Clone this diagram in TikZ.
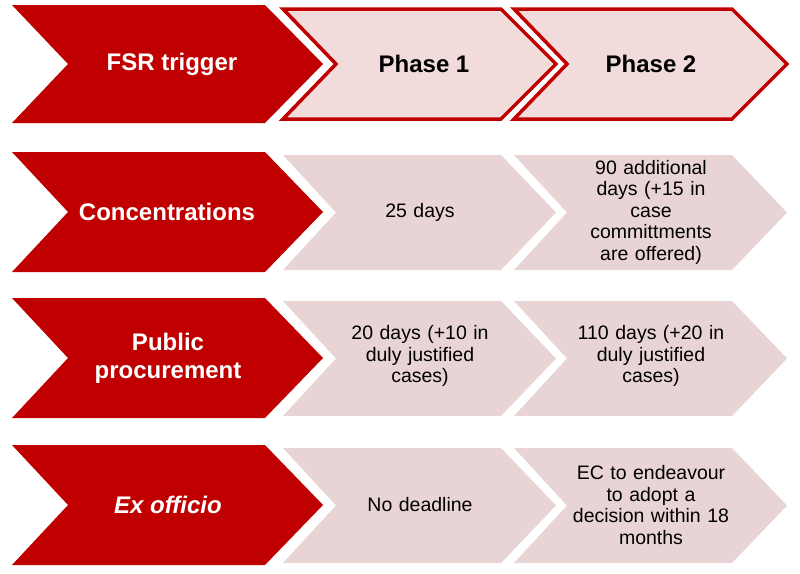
\documentclass[tikz,border=0pt]{standalone}
\usepackage{fontspec}
\setmainfont{Liberation Sans}
\usetikzlibrary{positioning}
\definecolor{fsrred}{RGB}{192,0,0}
\definecolor{phasepink}{RGB}{242,220,219}
\definecolor{cellpink}{RGB}{232,212,213}
% chevron outline: #1 = left x, #2 = top y, #3 = bottom y
\newcommand{\chevron}[3]{(#1,#2) -- ++(253,0) -- (#1+311,{(#2+#3)/2}) -- (#1+253,#3) -- (#1,#3) -- (#1+56,{(#2+#3)/2}) -- cycle}
\newcommand{\phasechev}[3]{(#1,#2) -- ++(218,0) -- (#1+273,{(#2+#3)/2}) -- (#1+218,#3) -- (#1,#3) -- (#1+53,{(#2+#3)/2}) -- cycle}
\begin{document}
\begin{tikzpicture}[x=1pt, y=-1pt,
    head/.style={font=\fontsize{24}{28}\selectfont\bfseries, align=center},
    trig/.style={head, text=white},
    cell/.style={font=\fontsize{19.5}{21.5}\selectfont, align=center, text width=180pt},
    ]
  \useasboundingbox (0,0) rectangle (800,573);
  % left column
  \foreach \t/\b in {5/123, 152/272, 298/418, 445/565}
    \fill[fsrred] \chevron{12}{\t}{\b};
  % header phases
  \draw[fsrred, line width=3.5pt, fill=phasepink] \phasechev{283}{9}{119};
  \draw[fsrred, line width=3.5pt, fill=phasepink] \phasechev{514}{9}{119};
  % body cells
  \foreach \t/\b in {155/270, 301/416, 448/563} {
    \fill[cellpink] \phasechev{283}{\t}{\b};
    \fill[cellpink] \phasechev{514}{\t}{\b};
  }
  \node[trig] (fsr) at (172,64) {FSR trigger};
  \node[head] (ph1) at (424,64) {Phase 1};
  \node[head] (ph2) at (651,64) {Phase 2};
  \node[trig] (conc) at (167,212) {Concentrations};
  \node[trig] (pub) at (168,358) {Public\\procurement};
  \node[trig] (exo) at (168,505) {\itshape Ex officio};
  \node[cell] (c1) at (420,212) {25 days};
  \node[cell] (c2) at (651,212) {90 additional\\days (+15 in\\case\\committments\\are offered)};
  \node[cell] (p1) at (420,356) {20 days (+10 in\\duly justified\\cases)};
  \node[cell] (p2) at (651,356) {110 days (+20 in\\duly justified\\cases)};
  \node[cell] (e1) at (420,505) {No deadline};
  \node[cell] (e2) at (651,505) {EC to endeavour\\to adopt a\\decision within 18\\months};
\end{tikzpicture}
\end{document}
